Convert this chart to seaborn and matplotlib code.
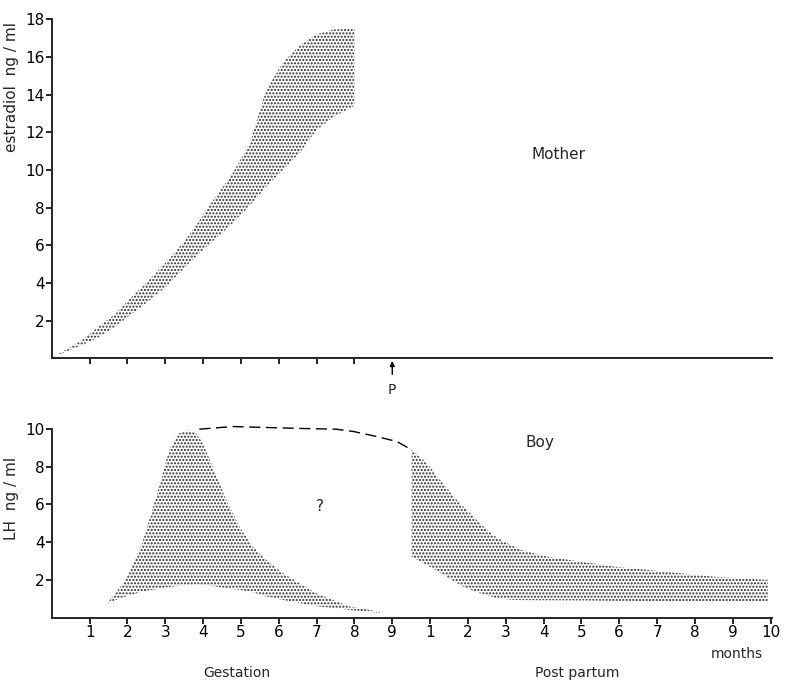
import numpy as np
import matplotlib
matplotlib.use('Agg')
import matplotlib.pyplot as plt
import seaborn as sns

# Mother: estradiol band (ng/ml) over gestation months
mother_x = [0.05, 0.8, 1.25, 1.69, 2.13, 2.57, 3.02, 3.46, 3.9, 4.08, 4.78, 5.23, 5.67, 6.11, 6.55, 7.0, 7.43, 8.0]
mother_hi = [0.07, 0.96, 1.7, 2.38, 3.3, 4.15, 5.1, 6.1, 7.3, 7.87, 9.82, 11.4, 14.25, 15.7, 16.6, 17.2, 17.45, 17.5]
mother_lo = [0.07, 0.7, 1.13, 1.7, 2.38, 3.05, 3.8, 4.7, 5.57, 5.9, 7.16, 8.1, 9.1, 10.0, 10.9, 12.1, 12.8, 13.4]

# Boy: LH band during gestation
gest_x = [1.47, 1.95, 2.39, 2.84, 3.1, 3.37, 3.59, 3.81, 3.99, 4.25, 4.61, 4.96, 5.31, 5.67, 6.11, 6.55, 7.0, 7.43, 7.88, 8.67]
gest_hi = [0.78, 2.0, 3.95, 6.95, 8.9, 9.77, 9.91, 9.77, 9.24, 8.0, 6.24, 4.83, 3.77, 3.07, 2.36, 1.83, 1.3, 0.95, 0.6, 0.33]
gest_lo = [0.78, 1.13, 1.39, 1.55, 1.63, 1.7, 1.73, 1.75, 1.74, 1.68, 1.57, 1.48, 1.36, 1.13, 0.95, 0.78, 0.62, 0.51, 0.42, 0.25]

# Boy: LH band post partum (x in months since conception, 9 = birth)
post_x = [9.51, 9.82, 9.99, 10.18, 10.43, 10.62, 10.87, 11.06, 11.32, 11.5, 11.76, 11.94, 12.2, 12.39, 13.09, 13.98, 14.86, 15.75, 16.63, 17.51, 18.93]
post_hi = [8.89, 8.36, 8.0, 7.48, 6.9, 6.42, 5.9, 5.54, 5.0, 4.66, 4.25, 4.04, 3.8, 3.6, 3.24, 2.98, 2.71, 2.54, 2.36, 2.18, 2.01]
post_lo = [3.24, 2.9, 2.71, 2.5, 2.18, 1.95, 1.66, 1.5, 1.31, 1.2, 1.04, 1.0, 0.95, 0.94, 0.93, 0.92, 0.9, 0.89, 0.88, 0.87, 0.86]

# Boy: dashed upper envelope (hypothetical)
dash_x = [3.9, 4.78, 5.67, 6.55, 7.52, 7.97, 8.5, 9.12, 9.51]
dash_y = [9.98, 10.12, 10.07, 10.02, 9.98, 9.86, 9.63, 9.33, 8.89]

gest_ticks = list(range(1, 10))
post_ticks = list(range(10, 20))
tick_labels = [str(m) for m in range(1, 10)] + [str(m) for m in range(1, 11)]

sns.set_style('ticks')
plt.rcParams['font.family'] = ['DejaVu Sans']
plt.rcParams['hatch.linewidth'] = 1.0

fig = plt.figure(figsize=(7.85, 6.85), dpi=100)
ax1 = fig.add_axes([0.066, 0.477, 0.918, 0.495])
ax2 = fig.add_axes([0.066, 0.098, 0.918, 0.276])

for ax in (ax1, ax2):
    sns.despine(ax=ax)
    ax.spines['left'].set_linewidth(1.4)
    ax.spines['bottom'].set_linewidth(1.4)
    ax.set_xlim(0, 19.05)
    ax.tick_params(axis='both', direction='out', length=4, width=1.2, labelsize=11, pad=1, colors='black')

dots = dict(facecolor='none', edgecolor='#2a2a2a', hatch='.....', linewidth=0)

# top panel
ax1.fill_between(mother_x, mother_lo, mother_hi, **dots)
ax1.set_ylim(0, 18)
ax1.set_yticks(range(2, 19, 2))
ax1.set_xticks(range(1, 9))
ax1.set_xticklabels([])
ax1.set_ylabel('estradiol  ng / ml', fontsize=11, labelpad=2)
ax1.yaxis.set_label_coords(-0.045, 0.8)
ax1.text(13.4, 10.8, 'Mother', fontsize=11, ha='center', va='center')
ax1.annotate('', xy=(9, 0), xytext=(9, -1.0), annotation_clip=False,
             arrowprops=dict(arrowstyle='-|>', color='black', lw=1, mutation_scale=7))
ax1.text(9, -1.7, 'P', fontsize=10, ha='center', va='center', clip_on=False)

# bottom panel
ax2.fill_between(gest_x, gest_lo, gest_hi, **dots)
ax2.fill_between(post_x, post_lo, post_hi, **dots)
sns.lineplot(x=dash_x, y=dash_y, ax=ax2, color='black', linewidth=1.0,
             linestyle=(0, (8, 4)), clip_on=False)
ax2.set_ylim(0, 10)
ax2.set_yticks(range(2, 11, 2))
ax2.set_xticks(gest_ticks + post_ticks)
ax2.set_xticklabels(tick_labels)
ax2.set_ylabel('LH  ng / ml', fontsize=11, labelpad=2)
ax2.yaxis.set_label_coords(-0.045, 0.63)
ax2.text(7.08, 5.9, '?', fontsize=11, ha='center', va='center')
ax2.text(12.9, 9.3, 'Boy', fontsize=11, ha='center', va='center')
ax2.text(18.1, -1.9, 'months', fontsize=10, ha='center', va='center', clip_on=False)
ax2.text(4.9, -2.9, 'Gestation', fontsize=10, ha='center', va='center', clip_on=False)
ax2.text(13.9, -2.9, 'Post partum', fontsize=10, ha='center', va='center', clip_on=False)

fig.savefig('out.png', dpi=100)
